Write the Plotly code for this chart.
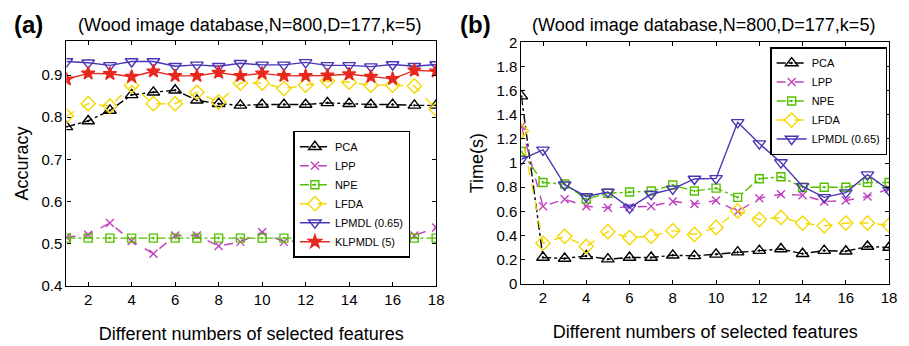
import plotly.graph_objects as go

x = list(range(1, 19))

# Panel (a): accuracy
acc_pca = [0.777, 0.791, 0.816, 0.853, 0.859, 0.864, 0.840, 0.832, 0.828, 0.830, 0.830, 0.830, 0.834, 0.832, 0.830, 0.830, 0.828, 0.828]
acc_lpp = [0.515, 0.521, 0.549, 0.506, 0.476, 0.519, 0.519, 0.494, 0.504, 0.527, 0.504, 0.508, 0.519, 0.520, 0.523, 0.523, 0.519, 0.538]
acc_npe = [0.513] * 18
acc_lfda = [0.803, 0.832, 0.826, 0.875, 0.832, 0.832, 0.859, 0.836, 0.881, 0.881, 0.868, 0.876, 0.886, 0.883, 0.876, 0.876, 0.874, 0.819]
acc_lpmdl = [0.932, 0.929, 0.923, 0.932, 0.932, 0.921, 0.924, 0.921, 0.928, 0.924, 0.924, 0.930, 0.923, 0.923, 0.920, 0.925, 0.921, 0.925]
acc_klpmdl = [0.890, 0.904, 0.903, 0.896, 0.909, 0.898, 0.898, 0.906, 0.898, 0.904, 0.898, 0.898, 0.899, 0.902, 0.896, 0.891, 0.911, 0.909]

# Panel (b): time
t_pca = [1.554, 0.218, 0.210, 0.231, 0.204, 0.218, 0.218, 0.236, 0.231, 0.244, 0.262, 0.275, 0.288, 0.249, 0.275, 0.270, 0.309, 0.301]
t_lpp = [1.305, 0.642, 0.700, 0.642, 0.629, 0.634, 0.642, 0.682, 0.661, 0.689, 0.598, 0.708, 0.742, 0.734, 0.682, 0.689, 0.723, 0.786]
t_npe = [1.096, 0.839, 0.826, 0.702, 0.750, 0.760, 0.768, 0.818, 0.768, 0.792, 0.716, 0.870, 0.886, 0.800, 0.800, 0.800, 0.839, 0.839]
t_lfda = [1.266, 0.336, 0.393, 0.309, 0.432, 0.383, 0.393, 0.440, 0.409, 0.467, 0.603, 0.532, 0.550, 0.503, 0.480, 0.503, 0.503, 0.485]
t_lpmdl = [1.030, 1.109, 0.820, 0.723, 0.760, 0.629, 0.742, 0.786, 0.868, 0.873, 1.337, 1.161, 1.004, 0.807, 0.716, 0.755, 0.904, 0.776]

styles = {
    "PCA": dict(color="#000000", dash="dashdot", symbol="triangle-up-open-dot", size=11),
    "LPP": dict(color="#c040c0", dash="dash", symbol="x-thin-open", size=8),
    "NPE": dict(color="#55c000", dash="dashdot", symbol="square-open-dot", size=8),
    "LFDA": dict(color="#f5d800", dash="dash", symbol="diamond-open", size=11),
    "LPMDL (0.65)": dict(color="#4a35b5", dash="solid", symbol="triangle-down-open", size=11),
    "KLPMDL (5)": dict(color="#e8281e", dash="solid", symbol="star", size=10),
}

fig = go.Figure()

def add(name, y, xa, ya, legend):
    s = styles[name]
    fig.add_trace(go.Scatter(
        x=x, y=y, name=name, mode="lines+markers",
        line=dict(color=s["color"], dash=s["dash"], width=1.4),
        marker=dict(symbol=s["symbol"], size=s["size"], color=s["color"],
                    line=dict(color=s["color"], width=1.4)),
        xaxis=xa, yaxis=ya, legend=legend,
    ))

for name, y in [("PCA", acc_pca), ("LPP", acc_lpp), ("NPE", acc_npe), ("LFDA", acc_lfda),
                ("LPMDL (0.65)", acc_lpmdl), ("KLPMDL (5)", acc_klpmdl)]:
    add(name, y, "x", "y", "legend")
for name, y in [("PCA", t_pca), ("LPP", t_lpp), ("NPE", t_npe), ("LFDA", t_lfda),
                ("LPMDL (0.65)", t_lpmdl)]:
    add(name, y, "x2", "y2", "legend2")

W, H = 909, 346
FONT = "Liberation Sans, Arial, sans-serif"

axis_common = dict(showline=True, linecolor="black", linewidth=1.2, mirror="ticks",
                   ticks="inside", ticklen=4, tickcolor="black", showgrid=False,
                   zeroline=False, tickfont=dict(size=15, color="black"))

XT = "Different numbers of selected features"

fig.update_layout(
    width=W, height=H, margin=dict(l=0, r=0, t=0, b=0),
    paper_bgcolor="white", plot_bgcolor="white",
    font=dict(family=FONT, color="black"),
    xaxis=dict(domain=[67 / W, 440 / W], range=[1, 18], tickvals=list(range(2, 19, 2)),
               title=dict(text=XT, font=dict(size=18), standoff=20),
               anchor="y", **axis_common),
    yaxis=dict(domain=[1 - 291 / H, 1 - 34 / H], range=[0.4, 0.98], dtick=0.1, tickformat=".1f",
               title=dict(text="Accuracy", font=dict(size=18), standoff=8),
               anchor="x", **axis_common),
    xaxis2=dict(domain=[526 / W, 897 / W], range=[1, 18], tickvals=list(range(2, 19, 2)),
                title=dict(text=XT, font=dict(size=18), standoff=20),
                anchor="y2", **axis_common),
    yaxis2=dict(domain=[1 - 289 / H, 1 - 35 / H], range=[0, 2],
                tickvals=[0, 0.2, 0.4, 0.6, 0.8, 1, 1.2, 1.4, 1.6, 1.8, 2],
                ticktext=["0", "0.2", "0.4", "0.6", "0.8", "1", "1.2", "1.4", "1.6", "1.8", "2"],
                title=dict(text="Time(s)", font=dict(size=18), standoff=8),
                anchor="x2", **axis_common),
    legend=dict(x=296 / W, y=1 - 128 / H, xanchor="left", yanchor="top",
                bgcolor="white", bordercolor="black", borderwidth=1.5,
                font=dict(size=11), tracegroupgap=0, itemwidth=30),
    legend2=dict(x=777 / W, y=1 - 40 / H, xanchor="left", yanchor="top",
                 bgcolor="white", bordercolor="black", borderwidth=1.5,
                 font=dict(size=11), tracegroupgap=0, itemwidth=30),
    annotations=[
        dict(text="<b>(a)</b>", x=12 / W, y=1 - 16 / H, xref="paper", yref="paper",
             xanchor="left", yanchor="middle", showarrow=False, font=dict(size=24)),
        dict(text="(Wood image database,N=800,D=177,k=5)", x=252 / W, y=1 - 17 / H,
             xref="paper", yref="paper", xanchor="center", yanchor="middle",
             showarrow=False, font=dict(size=18)),
        dict(text="<b>(b)</b>", x=462 / W, y=1 - 16 / H, xref="paper", yref="paper",
             xanchor="left", yanchor="middle", showarrow=False, font=dict(size=24)),
        dict(text="(Wood image database,N=800,D=177,k=5)", x=710 / W, y=1 - 17 / H,
             xref="paper", yref="paper", xanchor="center", yanchor="middle",
             showarrow=False, font=dict(size=18)),
    ],
)

fig.write_html("out.html")
